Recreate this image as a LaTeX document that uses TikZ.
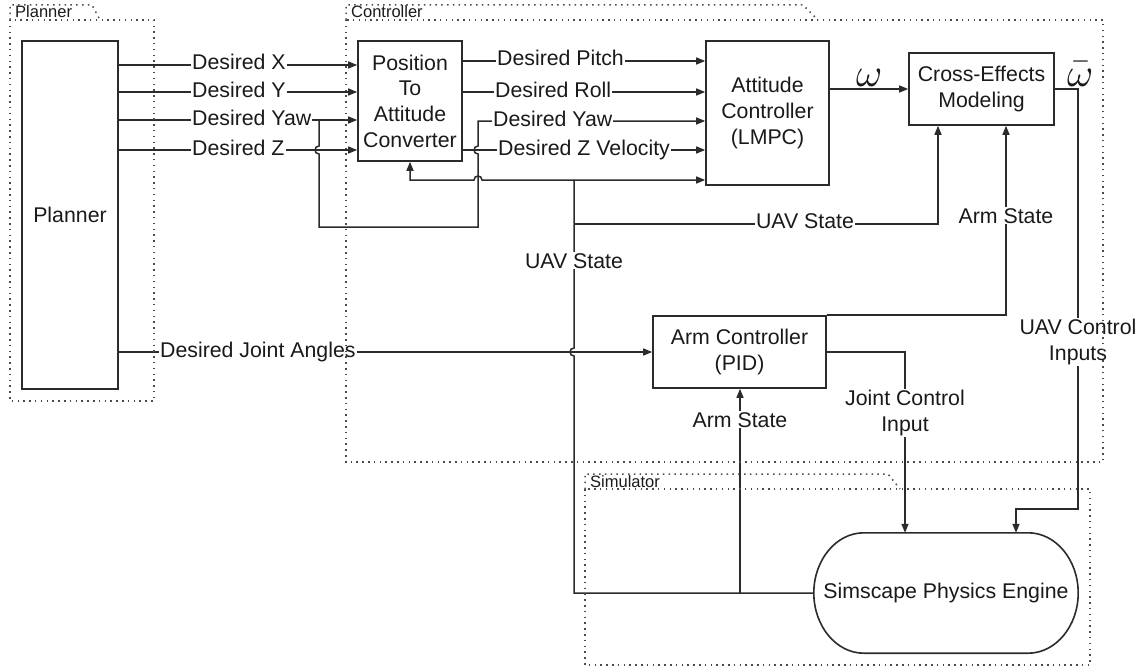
\documentclass[tikz,border=0pt]{standalone}
\usepackage{fontspec}
\usepackage{unicode-math}
\setmainfont{Liberation Sans}
\setmathfont{Latin Modern Math}
\usetikzlibrary{arrows.meta,calc}
\definecolor{linec}{HTML}{2B2B2B}
\definecolor{grpc}{HTML}{4A4A4A}
\definecolor{txtc}{HTML}{1A1A1A}
\newcommand\dlabelfont{\fontsize{21.3}{25.7}\selectfont}
\newcommand\dgroupfont{\fontsize{16.5}{19}\selectfont}
\newcommand\dsymfont{\fontsize{40}{40}\selectfont}
\begin{document}
\begin{tikzpicture}[x=1pt,y=-1pt,
  conn/.style={draw=linec, line width=1.5pt},
  arr/.style={conn, -{Triangle[length=9pt,width=7pt]}},
  blk/.style={draw=linec, line width=1.6pt, fill=white, inner sep=0pt,
              align=center, font=\dlabelfont, text=txtc},
  tag/.style={fill=white, inner sep=1pt, font=\dlabelfont, text=txtc, align=center},
  tagw/.style={tag, anchor=base west, yshift=-5pt},
  tagc/.style={tag, anchor=base, yshift=-4pt},
  grp/.style={draw=grpc, line width=1.5pt, dash pattern=on 1.5pt off 4.3pt},
  grplbl/.style={anchor=base west, inner sep=0pt, font=\dgroupfont, text=txtc},
  sym/.style={inner sep=0pt, anchor=base, font=\dsymfont, text=txtc}
]
\useasboundingbox (0,0) rectangle (1144,669);
\fill[white] (0,0) rectangle (1144,669);

% ---------- blocks ----------
\node[blk, minimum width=96pt, minimum height=348pt] (planner) at (70,215) {Planner};
\node[blk, minimum width=104pt, minimum height=120pt] (pos) at (410,101)
  {Position\\To\\Attitude\\Converter};
\node[blk, minimum width=123pt, minimum height=144pt] (att) at (767.5,113)
  {Attitude\\Controller\\(LMPC)};
\node[blk, minimum width=145pt, minimum height=72pt] (cross) at (981.5,89)
  {Cross-Effects\\Modeling};
\node[blk, minimum width=173pt, minimum height=72pt] (arm) at (739.5,352)
  {Arm Controller\\(PID)};
\node[inner sep=0pt, minimum width=264pt, minimum height=120pt, font=\dlabelfont, text=txtc]
  (sim) at (946,593) {Simscape Physics Engine};
% capsule outline of the physics engine
\draw[draw=linec, line width=1.6pt]
  ($(sim.north west)+(50,0)$) -- ($(sim.north east)+(-50,0)$)
  .. controls ($(sim.north east)+(-22.4,0)$) and ($(sim.east)+(0,-33.1)$) .. (sim.east)
  .. controls ($(sim.east)+(0,33.1)$) and ($(sim.south east)+(-22.4,0)$) .. ($(sim.south east)+(-50,0)$)
  -- ($(sim.south west)+(50,0)$)
  .. controls ($(sim.south west)+(22.4,0)$) and ($(sim.west)+(0,33.1)$) .. (sim.west)
  .. controls ($(sim.west)+(0,-33.1)$) and ($(sim.north west)+(22.4,0)$) .. cycle;

% ---------- planner -> converter ----------
\draw[arr] (planner.east |- 0,65) -- (pos.west |- 0,65);
\draw[arr] (planner.east |- 0,92) -- (pos.west |- 0,92);
\draw[arr] (planner.east |- 0,120) -- (pos.west |- 0,120);
\draw[arr] (planner.east |- 0,150) -- (pos.west |- 0,150);

% desired yaw bypasses the converter (hops over the Z lines)
\coordinate (yawsplit) at (319,120);
\draw[arr] (yawsplit) -- (319,146) .. controls (313.7,146) and (313.7,154) .. (319,154)
  -- (319,227) -- (478,227) -- (478,154) .. controls (472.7,154) and (472.7,146) .. (478,146)
  -- (478,121) -- (att.west |- 0,121);

% ---------- converter -> attitude controller ----------
\draw[arr] (pos.east |- 0,61) -- (att.west |- 0,61);
\draw[arr] (pos.east |- 0,92) -- (att.west |- 0,92);
\draw[arr] (pos.east |- 0,150) -- (att.west |- 0,150);

% ---------- UAV state feedback ----------
\coordinate (uavbus) at (574,180);
\coordinate (uavtap) at (574,224);
\draw[arr] (sim.west) -- (sim.west -| uavbus) -- (574,356)
  .. controls (568.7,356) and (568.7,348) .. (574,348) -- (uavbus) -- (att.west |- uavbus);
\draw[arr] (uavbus) -- (482,180) .. controls (482,174.7) and (474,174.7) .. (474,180)
  -- (pos.south |- uavbus) -- (pos.south);
\draw[arr] (uavtap) -- (938,224) -- (cross.south -| 938,0);

% ---------- arm state ----------
\coordinate (armtap) at (740,593);
\draw[arr] (armtap) -- (arm.south -| armtap);
\draw[arr] (arm.north east) -- (arm.north east -| 1006,0) -- (cross.south -| 1006,0);

% ---------- outputs ----------
\draw[arr] (att.east |- cross.west) -- (cross.west);
\draw[arr] (cross.east) -- (cross.east -| 1078,0) -- (1078,509) -- (1016,509) -- (sim.north -| 1016,0);
\draw[arr] (arm.east) -- (arm.east -| 905,0) -- (sim.north -| 905,0);
\draw[arr] (planner.east |- arm.west) -- (arm.west);

% ---------- connector labels ----------
\node[tagw] (lx) at (191,65) {Desired X};
\node[tagw] (ly) at (191,92) {Desired Y};
\node[tagw] (lyaw) at (191,120) {Desired Yaw};
\node[tagw] (lz) at (191,150) {Desired Z};
\node[tagw] (lpitch) at (496,61) {Desired Pitch};
\node[tagw] (lroll) at (494,92) {Desired Roll};
\node[tagw] (lyaw2) at (492,121) {Desired Yaw};
\node[tagw] (lzv) at (497,150) {Desired Z Velocity};
\node[tagc] (luav1) at (805,224) {UAV State};
\node[tagc] (larm1) at (1006,219) {Arm State};
\node[tagc] (luav2) at (574,264) {UAV State};
\node[tagw] (ljoint) at (159,352) {Desired Joint Angles};
\node[tagc] (larm2) at (740,423) {Arm State};
\node[tag] (ljci) at (905,413) {Joint Control\\Input};
\node[tag] (luci) at (1078,342) {UAV Control\\Inputs};
\node[sym] (lom) at (869,87) {$\omega$};
\node[sym] (lomb) at (1080,87) {$\bar{\omega}$};

% ---------- groups ----------
\draw[grp] (10,20) rectangle (154,401);
\draw[grp] (10,20) -- (10,5) -- (92,5) -- (100,20);
\node[grplbl] (gplanner) at (15,18) {Planner};

\draw[grp] (346,20) rectangle (1103,462);
\draw[grp] (346,20) -- (346,5) -- (803,5) -- (818,20);
\node[grplbl] (gcontroller) at (351,18) {Controller};

\draw[grp] (585,489) rectangle (1090,665);
\draw[grp] (585,489) -- (585,474) -- (888,474) -- (900,489);
\node[grplbl] (gsimulator) at (590,487) {Simulator};
\end{tikzpicture}
\end{document}
